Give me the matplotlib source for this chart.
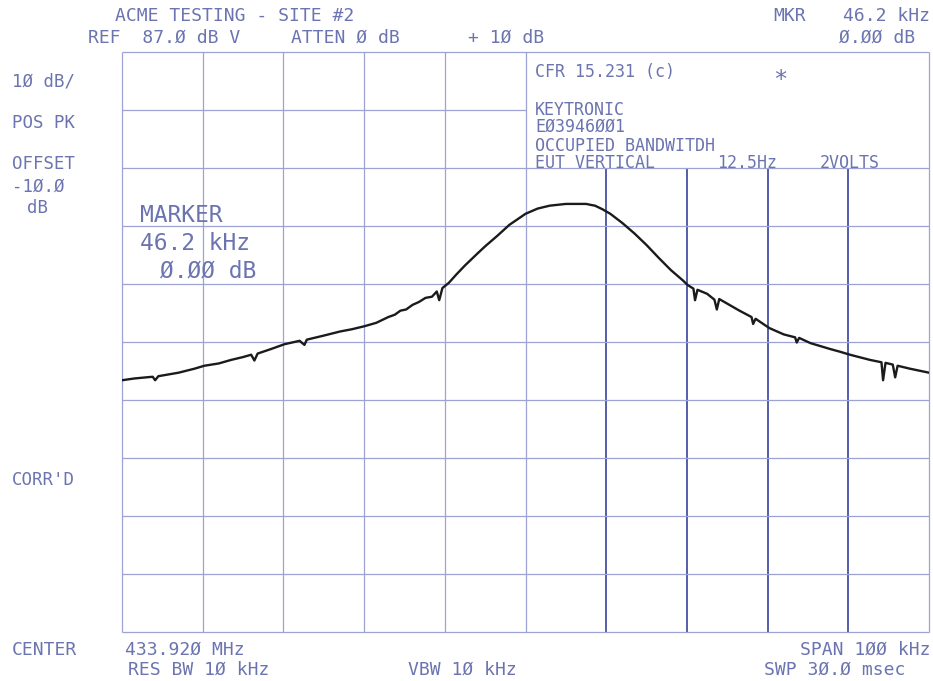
import matplotlib
matplotlib.use("Agg")
import matplotlib.pyplot as plt

# trace: offset from centre (kHz) and level (dB)
trace_khz = [-50.0, -48.5, -47.0, -46.2, -45.9, -45.5, -43.0, -41.0, -39.8, -38.0,
             -36.5, -35.0, -34.0, -33.6, -33.2, -31.5, -29.9, -28.0, -27.4, -27.1,
             -25.0, -23.0, -21.5, -20.0, -18.5, -17.6, -17.0, -16.2, -15.5, -14.8,
             -14.0, -13.2, -12.4, -11.6, -11.0, -10.7, -10.3, -9.5, -8.6, -7.5,
             -6.0, -5.0, -3.5, -2.0, 0.0, 1.5, 3.0, 5.0, 7.5, 8.2,
             8.6, 9.5, 10.5, 12.0, 13.5, 15.0, 16.5, 18.0, 19.5, 20.1,
             20.8, 21.0, 21.3, 22.5, 23.4, 23.7, 24.0, 25.0, 26.5, 28.0,
             28.2, 28.5, 30.2, 32.0, 33.4, 33.6, 33.9, 35.3, 37.7, 39.0,
             40.2, 42.7, 44.1, 44.3, 44.6, 45.5, 45.8, 46.1, 47.6, 50.0]
trace_db = [30.4, 30.7, 30.9, 31.0, 30.4, 31.1, 31.7, 32.4, 32.9, 33.3,
            33.9, 34.4, 34.8, 33.8, 35.0, 35.8, 36.6, 37.2, 36.5, 37.4,
            38.1, 38.8, 39.2, 39.7, 40.3, 40.9, 41.3, 41.7, 42.4, 42.6,
            43.4, 43.9, 44.6, 44.8, 45.7, 44.2, 46.3, 47.2, 48.6, 50.2,
            52.2, 53.5, 55.3, 57.2, 59.1, 60.0, 60.5, 60.8, 60.8, 60.6,
            60.5, 59.9, 59.1, 57.5, 55.7, 53.7, 51.5, 49.4, 47.6, 46.8,
            46.2, 44.2, 46.0, 45.3, 44.3, 42.6, 44.4, 43.6, 42.4, 41.3,
            40.1, 41.0, 39.4, 38.3, 37.8, 36.9, 37.7, 36.8, 35.8, 35.3,
            34.8, 33.9, 33.5, 30.4, 33.4, 33.1, 30.9, 32.9, 32.4, 31.7]

ref_level = 87.0
db_per_div = 10.0
span_khz = 100.0
x_lines = [-50, -40, -30, -20, -10, 0, 10, 20, 30, 40, 50]
y_lines = [ref_level - db_per_div * i for i in range(11)]

grid_col = '#9da3d3'
dark_col = '#4650a0'
text_col = '#6b74b0'
mono = 'DejaVu Sans Mono'

fig = plt.figure(figsize=(9.33, 6.81), dpi=100)
ax = fig.add_axes([0.1308, 0.0720, 0.8650, 0.8517])
ax.set_xlim(-span_khz / 2, span_khz / 2)
ax.set_ylim(y_lines[-1], ref_level)
ax.axis('off')

# graticule; the annotation box in the upper right has no inner lines
box_bottom = y_lines[2]
for x in x_lines:
    if x in (10, 20, 30, 40):
        ax.vlines(x, y_lines[-1], box_bottom, color=dark_col, lw=1.3, zorder=1)
    else:
        ax.vlines(x, y_lines[-1], ref_level, color=grid_col, lw=0.9, zorder=1, clip_on=False)
for y in y_lines:
    if y == y_lines[1]:
        ax.hlines(y, x_lines[0], 0, color=grid_col, lw=0.9, zorder=1)
    else:
        ax.hlines(y, x_lines[0], x_lines[-1], color=grid_col, lw=0.9, zorder=1, clip_on=False)

ax.plot(trace_khz, trace_db, color='#1b1b1b', lw=1.7, zorder=3)


def put(px, py, s, size=12.5, ha='left'):
    fig.text(px / 933, 1 - py / 681, s, fontsize=size, family=mono,
             color=text_col, ha=ha, va='center')


# header
put(115, 16, 'ACME TESTING - SITE #2', 13)
put(773, 16, 'MKR', 13)
put(930, 16, '46.2 kHz', 13, ha='right')
put(88, 38, 'REF  87.Ø dB V', 13)
put(291, 38, 'ATTEN Ø dB', 13)
put(468, 38, '+ 1Ø dB', 13)
put(915, 38, 'Ø.ØØ dB', 13, ha='right')

# left column
put(12, 81, '1Ø dB/')
put(12, 123, 'POS PK')
put(12, 164, 'OFFSET')
put(12, 187, '-1Ø.Ø')
put(27, 208, 'dB')
put(12, 480, "CORR'D")

# annotation box
put(535, 72, 'CFR 15.231 (c)', 12)
put(780, 80, '*', 17, ha='center')
put(535, 110, 'KEYTRONIC', 12)
put(535, 127, 'EØ3946ØØ1', 12)
put(535, 146, 'OCCUPIED BANDWITDH', 12)
put(535, 163, 'EUT VERTICAL', 12)
put(717, 163, '12.5Hz', 12)
put(820, 163, '2VOLTS', 12)

# marker readout
put(140, 215, 'MARKER', 16.5)
put(140, 243, '46.2 kHz', 16.5)
put(160, 271, 'Ø.ØØ dB', 16.5)

# footer
put(12, 650, 'CENTER', 13)
put(125, 650, '433.92Ø MHz', 13)
put(930, 650, 'SPAN 1ØØ kHz', 13, ha='right')
put(128, 670, 'RES BW 1Ø kHz', 13)
put(408, 670, 'VBW 1Ø kHz', 13)
put(905, 670, 'SWP 3Ø.Ø msec', 13, ha='right')

fig.savefig('out.png', dpi=100, facecolor='white')
